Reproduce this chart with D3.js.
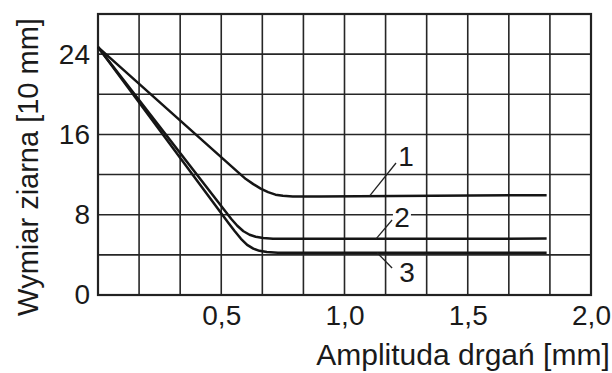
<!DOCTYPE html>
<html>
<head>
<meta charset="utf-8">
<script src="https://cdn.jsdelivr.net/npm/d3@7"></script>
<style>
  html, body { margin: 0; padding: 0; background: #fff; }
  svg { display: block; }
  text { font-family: "Liberation Sans", Arial, sans-serif; fill: #1a1a1a; }
</style>
</head>
<body>
<div id="container"></div>
<script>
var WIDTH = 612,
    HEIGHT = 373;
var margin = {top: 14, right: 21, bottom: 78, left: 98};

// values: [amplituda mm, wymiar ziarna]
var curve1 = [[0, 24.7], [0.57, 12.2], [0.6, 11.55], [0.63, 11.05], [0.66, 10.6],
              [0.69, 10.25], [0.72, 10.0], [0.75, 9.88], [0.79, 9.82], [0.9, 9.82],
              [1.82, 9.95]];
var curve2 = [[0, 24.7], [0.54, 7.6], [0.565, 6.9], [0.59, 6.35], [0.615, 6.0],
              [0.64, 5.8], [0.67, 5.67], [0.71, 5.6], [1.82, 5.62]];
var curve3 = [[0, 24.7], [0.53, 7.15], [0.555, 6.35], [0.58, 5.6], [0.605, 5.0],
              [0.63, 4.62], [0.655, 4.4], [0.685, 4.28], [0.73, 4.22], [1.82, 4.22]];
var seriesNames = ['1', '2', '3'];

// label anchors and leader ends, in data units
var labelAt = [[1.25, 13.9], [1.233, 7.77], [1.254, 2.29]];
var leaderFrom = [[1.103, 9.9], [1.128, 5.6], [1.132, 4.22]];
var leaderTo = [[1.209, 13.15], [1.193, 7.47], [1.193, 2.69]];

var xTicks = [0.5, 1.0, 1.5, 2.0],
    yTicks = [0, 8, 16, 24];
var xGridStep = 1 / 6,
    yGridStep = 4;
var xTitle = 'Amplituda drgań [mm]',
    yTitle = 'Wymiar ziarna [10 mm]';

var svg = d3.select('#container').append('svg')
    .attr('width', WIDTH)
    .attr('height', HEIGHT);

var plotW = WIDTH - margin.left - margin.right,
    plotH = HEIGHT - margin.top - margin.bottom;

var x = d3.scaleLinear().domain([0, 2]).range([0, plotW]);
var y = d3.scaleLinear().domain([0, 28]).range([plotH, 0]);

var g = svg.append('g')
    .attr('transform', 'translate(' + margin.left + ',' + margin.top + ')');

// grid
var grid = g.append('g').attr('stroke', '#262626').attr('stroke-width', 1.6);
grid.selectAll('line.v')
  .data(d3.range(1, 12).map(function(i) { return i * xGridStep; }))
  .enter().append('line')
    .attr('class', 'v')
    .attr('x1', function(d) { return x(d); })
    .attr('x2', function(d) { return x(d); })
    .attr('y1', 0)
    .attr('y2', plotH);
grid.selectAll('line.h')
  .data(d3.range(yGridStep, 28, yGridStep))
  .enter().append('line')
    .attr('class', 'h')
    .attr('x1', 0)
    .attr('x2', plotW)
    .attr('y1', function(d) { return y(d); })
    .attr('y2', function(d) { return y(d); });

// frame
g.append('rect')
    .attr('x', 0).attr('y', 0)
    .attr('width', plotW).attr('height', plotH)
    .attr('fill', 'none')
    .attr('stroke', '#222')
    .attr('stroke-width', 2.2);

// axes (labels only, the frame gives the lines)
var comma = function(d) { return d3.format('.1f')(d).replace('.', ','); };
var xAxis = g.append('g')
    .attr('transform', 'translate(0,' + plotH + ')')
    .call(d3.axisBottom(x).tickValues(xTicks).tickFormat(comma).tickSize(0).tickPadding(10));
var yAxis = g.append('g')
    .call(d3.axisLeft(y).tickValues(yTicks).tickSize(0).tickPadding(8));
[xAxis, yAxis].forEach(function(a) {
  a.select('.domain').remove();
  a.selectAll('text')
    .style('font-family', '"Liberation Sans", Arial, sans-serif')
    .style('font-size', '28px')
    .attr('fill', '#1a1a1a');
});
xAxis.selectAll('text').attr('dy', '0.71em');

// curves
var line = d3.line()
    .x(function(d) { return x(d[0]); })
    .y(function(d) { return y(d[1]); });
g.selectAll('path.curve')
  .data([curve1, curve2, curve3])
  .enter().append('path')
    .attr('class', 'curve')
    .attr('d', line)
    .attr('fill', 'none')
    .attr('stroke', '#151515')
    .attr('stroke-width', 2.5)
    .attr('stroke-linejoin', 'round');

// leaders and numbers
g.selectAll('line.leader')
  .data(seriesNames)
  .enter().append('line')
    .attr('class', 'leader')
    .attr('x1', function(d, i) { return x(leaderFrom[i][0]); })
    .attr('y1', function(d, i) { return y(leaderFrom[i][1]); })
    .attr('x2', function(d, i) { return x(leaderTo[i][0]); })
    .attr('y2', function(d, i) { return y(leaderTo[i][1]); })
    .attr('stroke', '#222')
    .attr('stroke-width', 1.3);

var labels = g.selectAll('g.lab')
  .data(seriesNames)
  .enter().append('g')
    .attr('class', 'lab')
    .attr('transform', function(d, i) {
      return 'translate(' + x(labelAt[i][0]) + ',' + y(labelAt[i][1]) + ')';
    });
labels.append('rect')
    .attr('x', -9).attr('y', -12)
    .attr('width', 18).attr('height', 24)
    .attr('fill', '#fff');
labels.append('text')
    .attr('text-anchor', 'middle')
    .attr('dy', '0.36em')
    .style('font-size', '28px')
    .text(function(d) { return d; });

// titles
svg.append('text')
    .attr('x', 463)
    .attr('y', 365)
    .attr('text-anchor', 'middle')
    .style('font-size', '30px')
    .text(xTitle);
svg.append('text')
    .attr('transform', 'translate(38,167) rotate(-90)')
    .attr('text-anchor', 'middle')
    .style('font-size', '29px')
    .text(yTitle);
</script>
</body>
</html>
